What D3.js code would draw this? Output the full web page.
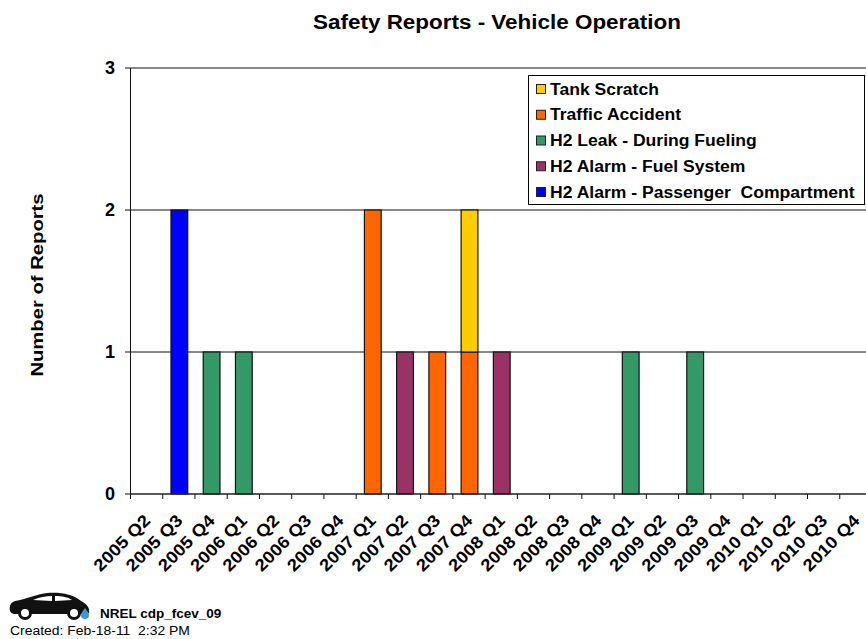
<!DOCTYPE html>
<html><head><meta charset="utf-8">
<script src="https://cdn.jsdelivr.net/npm/d3@7"></script>
<style>html,body{margin:0;padding:0;background:#fff;overflow:hidden}svg{display:block}text{font-family:"Liberation Sans",Arial,sans-serif;fill:#000}</style>
</head><body><svg id="c" width="866" height="639"></svg>
<script>
const categories=["2005 Q2","2005 Q3","2005 Q4","2006 Q1","2006 Q2","2006 Q3","2006 Q4","2007 Q1","2007 Q2","2007 Q3","2007 Q4","2008 Q1","2008 Q2","2008 Q3","2008 Q4","2009 Q1","2009 Q2","2009 Q3","2009 Q4","2010 Q1","2010 Q2","2010 Q3","2010 Q4"];
const seriesNames=["H2 Alarm - Passenger  Compartment","H2 Alarm - Fuel System","H2 Leak - During Fueling","Traffic Accident","Tank Scratch"];
const seriesColors=["#0000ff","#993366","#339966","#ff6600","#ffcc00"];
const passengerAlarm=[0,2,0,0,0,0,0,0,0,0,0,0,0,0,0,0,0,0,0,0,0,0,0];
const fuelAlarm=     [0,0,0,0,0,0,0,0,1,0,0,1,0,0,0,0,0,0,0,0,0,0,0];
const fuelingLeak=   [0,0,1,1,0,0,0,0,0,0,0,0,0,0,0,1,0,1,0,0,0,0,0];
const trafficAccident=[0,0,0,0,0,0,0,2,0,1,1,0,0,0,0,0,0,0,0,0,0,0,0];
const tankScratch=   [0,0,0,0,0,0,0,0,0,0,1,0,0,0,0,0,0,0,0,0,0,0,0];
const yTicks=[0,1,2,3];
const seriesValues=[passengerAlarm,fuelAlarm,fuelingLeak,trafficAccident,tankScratch];

const svg=d3.select("#c");
const x=d3.scaleBand().domain(categories).range([130.5,872]);
const y=d3.scaleLinear().domain([0,3]).range([494,68]);
const table=categories.map((c,i)=>{const r={cat:c};seriesNames.forEach((s,j)=>r[s]=seriesValues[j][i]);return r;});
const stacked=d3.stack().keys(seriesNames)(table);
const bw=x.bandwidth()*0.52;
// widen text horizontally: the reference glyphs are stretched
function stretch(sel,k){sel.each(function(){const n=this.getComputedTextLength();d3.select(this).attr("textLength",n*k).attr("lengthAdjust","spacingAndGlyphs");});return sel;}

stretch(svg.append("text").attr("x",497).attr("y",29).attr("text-anchor","middle").style("font-size","20px").style("font-weight","bold").text("Safety Reports - Vehicle Operation"),1.122);
stretch(svg.append("text").attr("transform","translate(43,285) rotate(-90)").attr("text-anchor","middle").style("font-size","17px").style("font-weight","bold").text("Number of Reports"),1.19);

svg.append("g").selectAll("line").data(yTicks.filter(d=>d>0)).join("line")
 .attr("x1",130.5).attr("x2",866).attr("y1",d=>y(d)).attr("y2",d=>y(d)).attr("stroke","#111").attr("stroke-width",1);

const bars=svg.append("g");
stacked.forEach((s,j)=>{
 bars.selectAll(null).data(s.filter(d=>d[1]>d[0])).join("rect")
  .attr("x",d=>x(d.data.cat)+(x.bandwidth()-bw)/2+0.5).attr("width",bw)
  .attr("y",d=>y(d[1])).attr("height",d=>y(d[0])-y(d[1]))
  .attr("fill",seriesColors[j]).attr("stroke","#111").attr("stroke-width",1.2);
});

const ax=svg.append("g").attr("stroke","#111");
ax.append("line").attr("x1",130.5).attr("x2",130.5).attr("y1",68).attr("y2",494);
ax.append("line").attr("x1",130.5).attr("x2",866).attr("y1",494).attr("y2",494).attr("stroke","#222").attr("stroke-width",1.4);
ax.selectAll(".t").data(yTicks).join("line").attr("x1",125).attr("x2",130.5).attr("y1",d=>y(d)).attr("y2",d=>y(d));
ax.selectAll(".b").data(categories).join("line").attr("x1",d=>x(d)).attr("x2",d=>x(d)).attr("y1",494).attr("y2",499);

svg.append("g").selectAll("text").data(yTicks).join("text").attr("x",115).attr("y",d=>y(d)+6).attr("text-anchor","end").style("font-size","18px").style("font-weight","bold").text(d=>d);
stretch(svg.append("g").selectAll("text").data(categories).join("text")
 .attr("transform",d=>`translate(${x(d)+x.bandwidth()/2-4},${513}) rotate(-45)`)
 .attr("text-anchor","end").attr("dy","0.72em").style("font-size","17px").style("font-weight","bold").text(d=>d),1.1);

const lg=svg.append("g");
lg.append("rect").attr("x",528.5).attr("y",75.5).attr("width",336).attr("height",129).attr("fill","#fff").attr("stroke","#000");
const order=d3.range(seriesNames.length).reverse();
const ly=d3.scalePoint().domain(order).range([89,192]);
lg.selectAll("rect.k").data(order).join("rect").attr("class","k").attr("x",536.5).attr("y",d=>ly(d)-4.5).attr("width",9).attr("height",9).attr("fill",d=>seriesColors[d]).attr("stroke","#222");
stretch(lg.selectAll("text").data(order).join("text").attr("x",550).attr("y",d=>ly(d)+5.5).style("font-size","16px").style("font-weight","bold").style("white-space","pre").text(d=>seriesNames[d]),1.097);

const car=svg.append("g").attr("transform","translate(0,580)");
car.append("path").attr("fill","#111").attr("d","M10 26 C11 22 14 21 20 20 C28 18 38 14 47 13 C60 12 73 14 81 21 C87 24 90 28 89 33 L85 34 L14 34 C10 33 9 30 10 26Z");
car.append("path").attr("fill","#fff").attr("d","M33 20 C40 17 46 16 52 16 L52 21 Z M55 16 C62 16 68 17 72 20 L55 21 Z");
[[25,33],[74,33]].forEach(p=>{car.append("circle").attr("cx",p[0]).attr("cy",p[1]).attr("r",7).attr("fill","#111");car.append("circle").attr("cx",p[0]).attr("cy",p[1]).attr("r",4).attr("fill","#fff");});
car.append("path").attr("fill","#3a9ad9").attr("d","M85 28 C87 31 89 33 89 35 A4 4 0 0 1 81 35 C81 33 83 31 85 28Z");
stretch(svg.append("text").attr("x",100).attr("y",618).style("font-size","12.5px").style("font-weight","bold").text("NREL cdp_fcev_09"),1.08);
stretch(svg.append("text").attr("x",10).attr("y",635).style("font-size","13px").style("white-space","pre").text("Created: Feb-18-11  2:32 PM"),1.07);
</script></body></html>
